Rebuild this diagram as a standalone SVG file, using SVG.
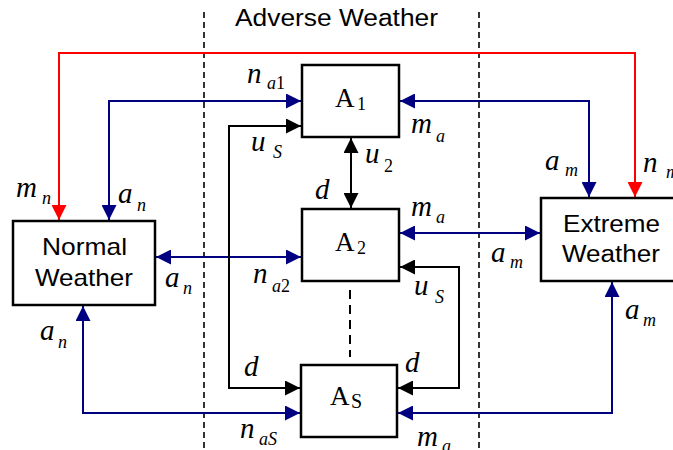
<svg xmlns="http://www.w3.org/2000/svg" width="673" height="450" viewBox="0 0 673 450">
<style>
.box{fill:#fff;stroke:#000;stroke-width:2.5}
.sans{font-family:"Liberation Sans",Arial,sans-serif;fill:#000}
.m{font-family:"Liberation Serif","Times New Roman",serif;font-style:italic;font-size:29px;fill:#000}
.s{font-size:18px}
.up{font-style:normal}
.rm{font-family:"Liberation Serif","Times New Roman",serif;font-size:27px;fill:#000}
.blue{fill:none;stroke:#000080;stroke-width:2}
.red{fill:none;stroke:#ff0000;stroke-width:2}
.blk{fill:none;stroke:#000;stroke-width:2}
.sep{fill:none;stroke:#000;stroke-width:1.6;stroke-dasharray:6,4}
</style>
<defs>
<marker id="ab" markerUnits="userSpaceOnUse" markerWidth="16" markerHeight="15" refX="15" refY="7.5" orient="auto-start-reverse"><path d="M0,0 L15,7.5 L0,15 z" fill="#000080"/></marker>
<marker id="ar" markerUnits="userSpaceOnUse" markerWidth="16" markerHeight="15" refX="15" refY="7.5" orient="auto-start-reverse"><path d="M0,0 L15,7.5 L0,15 z" fill="#ff0000"/></marker>
<marker id="ak" markerUnits="userSpaceOnUse" markerWidth="16" markerHeight="15" refX="15" refY="7.5" orient="auto-start-reverse"><path d="M0,0 L15,7.5 L0,15 z" fill="#000"/></marker>
</defs>
<g id="separators">
<line class="sep" x1="204" y1="12" x2="204" y2="450"/>
<line class="sep" x1="479" y1="12" x2="479" y2="450"/>
<text class="sans" x="235" y="26" font-size="23" textLength="203" lengthAdjust="spacingAndGlyphs">Adverse Weather</text>
</g>
<g id="connectors">
<path class="red" d="M59,220 V53 H635 V197" marker-start="url(#ar)" marker-end="url(#ar)"/>
<path class="blue" d="M109,220 V101 H301" marker-start="url(#ab)" marker-end="url(#ab)"/>
<path class="blue" d="M400,101 H589 V197" marker-start="url(#ab)" marker-end="url(#ab)"/>
<path class="blue" d="M156,257 H301" marker-start="url(#ab)" marker-end="url(#ab)"/>
<path class="blue" d="M400,233 H540" marker-start="url(#ab)" marker-end="url(#ab)"/>
<path class="blue" d="M83,306 V413 H300" marker-start="url(#ab)" marker-end="url(#ab)"/>
<path class="blue" d="M398,413 H612 V282" marker-start="url(#ab)" marker-end="url(#ab)"/>
<path class="blk" d="M351,138 V208" marker-start="url(#ak)" marker-end="url(#ak)"/>
<path class="blk" d="M301,126 H229 V388 H300" marker-start="url(#ak)" marker-end="url(#ak)"/>
<path class="blk" d="M400,267 H459 V388 H398" marker-start="url(#ak)" marker-end="url(#ak)"/>
<path class="blk" d="M350,290 V357" stroke-dasharray="9,6"/>
</g>
<g id="normal">
<rect class="box" x="13" y="221" width="142" height="84"/>
<text class="sans" x="42" y="255" font-size="24" textLength="85" lengthAdjust="spacingAndGlyphs">Normal</text>
<text class="sans" x="35" y="286" font-size="24" textLength="98" lengthAdjust="spacingAndGlyphs">Weather</text>
</g>
<g id="extreme">
<rect class="box" x="541" y="198" width="142" height="83"/>
<text class="sans" x="563" y="231.5" font-size="23" textLength="97" lengthAdjust="spacingAndGlyphs">Extreme</text>
<text class="sans" x="562" y="261.5" font-size="23" textLength="98" lengthAdjust="spacingAndGlyphs">Weather</text>
</g>
<g id="a1">
<rect class="box" x="302" y="65" width="97" height="72"/>
<text class="rm" x="335" y="107">A<tspan x="357" y="110" font-size="18">1</tspan></text>
</g>
<g id="a2">
<rect class="box" x="302" y="209" width="97" height="72"/>
<text class="rm" x="335" y="251">A<tspan x="357" y="254" font-size="18">2</tspan></text>
</g>
<g id="as">
<rect class="box" x="301" y="365" width="96" height="72"/>
<text class="rm" x="330" y="405">A<tspan x="351" y="408" font-size="20">S</tspan></text>
</g>
<g id="labels">
<text class="m" x="16" y="197">m<tspan class="s" x="42" y="204">n</tspan></text>
<text class="m" x="118" y="203">a<tspan class="s" x="137" y="211">n</tspan></text>
<text class="m" x="165" y="287">a<tspan class="s" x="183" y="294">n</tspan></text>
<text class="m" x="40" y="340">a<tspan class="s" x="58" y="348">n</tspan></text>
<text class="m" x="247" y="83">n<tspan class="s" x="267" y="89">a</tspan><tspan class="s up">1</tspan></text>
<text class="m" x="251" y="151">u<tspan class="s" x="273" y="158">S</tspan></text>
<text class="m" x="411" y="133">m<tspan class="s" x="436" y="142">a</tspan></text>
<text class="m" x="365" y="163">u<tspan class="s up" x="384" y="172">2</tspan></text>
<text class="m" x="315" y="199">d</text>
<text class="m" x="411" y="216">m<tspan class="s" x="436" y="223">a</tspan></text>
<text class="m" x="545" y="170">a<tspan class="s" x="565" y="176">m</tspan></text>
<text class="m" x="643" y="172">n<tspan class="s" x="666" y="178">m</tspan></text>
<text class="m" x="491" y="262">a<tspan class="s" x="510" y="268">m</tspan></text>
<text class="m" x="414" y="295">u<tspan class="s" x="435" y="303">S</tspan></text>
<text class="m" x="625" y="319">a<tspan class="s" x="643" y="326">m</tspan></text>
<text class="m" x="405" y="372">d</text>
<text class="m" x="244" y="376">d</text>
<text class="m" x="253" y="283">n<tspan class="s" x="272" y="292">a</tspan><tspan class="s up">2</tspan></text>
<text class="m" x="240" y="438">n<tspan class="s" x="259" y="445">aS</tspan></text>
<text class="m" x="417" y="446">m<tspan class="s" x="442" y="452">a</tspan></text>
</g>
</svg>
